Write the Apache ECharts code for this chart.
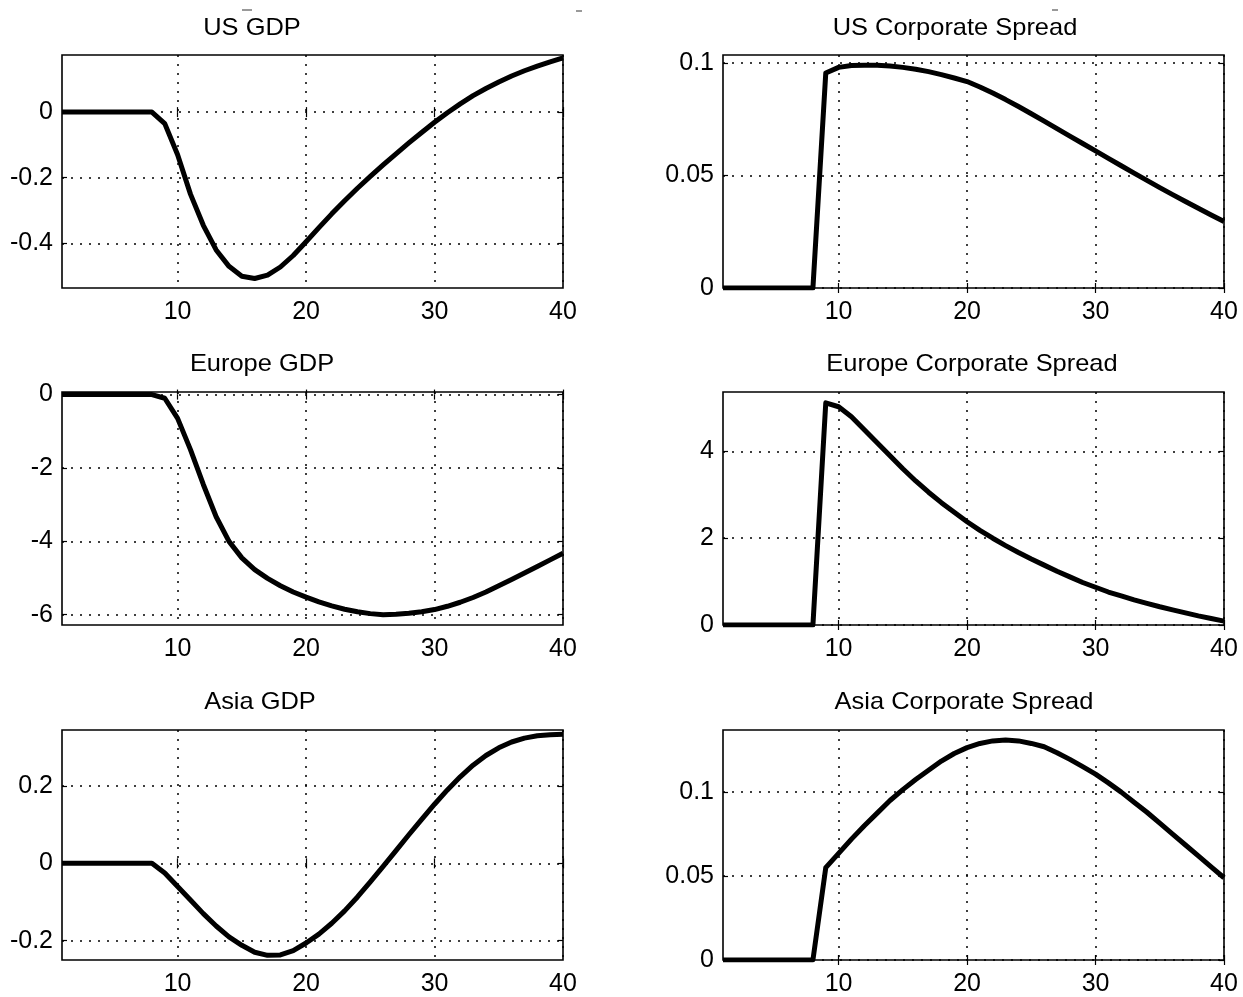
<!DOCTYPE html>
<html>
<head>
<meta charset="utf-8">
<script src="https://cdn.jsdelivr.net/npm/echarts@6/dist/echarts.min.js"></script>
<style>
  html, body { margin: 0; padding: 0; background: #fff; }
  #main { width: 1243px; height: 997px; }
</style>
</head>
<body>
<div id="main"></div>
<script>
// periods on the x axis
var periods = [1,2,3,4,5,6,7,8,9,10,11,12,13,14,15,16,17,18,19,20,
               21,22,23,24,25,26,27,28,29,30,31,32,33,34,35,36,37,38,39,40];
var xTicks = [10, 20, 30, 40];

var usGdp = [0,0,0,0,0,0,0,0,-0.035,-0.13,-0.25,-0.345,-0.42,-0.47,-0.5,-0.507,-0.497,-0.472,-0.437,-0.395,
             -0.352,-0.31,-0.27,-0.232,-0.196,-0.161,-0.127,-0.094,-0.062,-0.031,-0.002,0.025,0.05,0.072,0.092,0.11,0.126,0.14,0.153,0.165];
var usSpread = [0,0,0,0,0,0,0,0,0.0955,0.098,0.0988,0.099,0.0989,0.0986,0.098,0.0972,0.0961,0.0948,0.0933,0.0917,
                0.0893,0.0866,0.0837,0.0806,0.0774,0.0741,0.0708,0.0675,0.0642,0.0609,0.0576,0.0543,0.051,0.0478,0.0446,0.0415,0.0384,0.0354,0.0324,0.0295];
var euGdp = [0,0,0,0,0,0,0,0,-0.1,-0.65,-1.5,-2.45,-3.33,-4.0,-4.45,-4.77,-5.01,-5.21,-5.38,-5.52,
             -5.65,-5.76,-5.85,-5.92,-5.97,-6.0,-5.99,-5.96,-5.92,-5.86,-5.77,-5.66,-5.53,-5.38,-5.21,-5.04,-4.865,-4.685,-4.505,-4.325];
var euSpread = [0,0,0,0,0,0,0,0,5.12,5.03,4.8,4.5,4.2,3.9,3.6,3.32,3.06,2.82,2.6,2.38,
                2.18,2.0,1.83,1.67,1.52,1.38,1.24,1.11,0.98,0.87,0.76,0.67,0.58,0.5,0.42,0.35,0.28,0.21,0.15,0.09];
var asiaGdp = [0,0,0,0,0,0,0,0,-0.025,-0.06,-0.095,-0.13,-0.162,-0.19,-0.212,-0.23,-0.238,-0.237,-0.226,-0.206,
               -0.183,-0.155,-0.123,-0.087,-0.048,-0.008,0.033,0.074,0.114,0.153,0.19,0.224,0.254,0.279,0.299,0.314,0.324,0.33,0.333,0.334];
var asiaSpread = [0,0,0,0,0,0,0,0,0.055,0.0635,0.072,0.08,0.0875,0.095,0.1015,0.1075,0.113,0.1185,0.123,0.1265,
                  0.129,0.1305,0.131,0.1305,0.129,0.127,0.1235,0.1195,0.1152,0.1107,0.1055,0.1,0.094,0.088,0.0815,0.075,0.0685,0.062,0.0555,0.049];

var titles = ['US GDP', 'US Corporate Spread', 'Europe GDP', 'Europe Corporate Spread', 'Asia GDP', 'Asia Corporate Spread'];
var seriesData = [usGdp, usSpread, euGdp, euSpread, asiaGdp, asiaSpread];
var yMin = [-0.536, 0, -6.28, 0, -0.25, 0];
var yMax = [0.174, 0.1035, 0.07, 5.37, 0.345, 0.137];
var yTicks = [[-0.4, -0.2, 0], [0, 0.05, 0.1], [-6, -4, -2, 0], [0, 2, 4], [-0.2, 0, 0.2], [0, 0.05, 0.1]];

var FONT = 'Liberation Sans, Arial, Helvetica, sans-serif';
var gridLeft = [62, 723];
var gridTop = [55, 392, 730];
var titleX = [252, 955, 262, 972, 260, 964];
var titleY = [28, 28, 364, 364, 702, 702];

var grids = [], xAxes = [], yAxes = [], series = [], graphics = [];
var dotted = { color: '#000', width: 1.5, type: [2, 7] };
var tickStyle = { color: '#000', width: 1.2 };

for (var i = 0; i < 6; i++) {
    var row = Math.floor(i / 2), col = i % 2;
    grids.push({
        left: gridLeft[col], top: gridTop[row], width: 501, height: 233,
        show: true, borderColor: '#000', borderWidth: 1.6, backgroundColor: '#fff'
    });
    // bottom axis with labels and grid
    xAxes.push({
        gridIndex: i, type: 'value', min: 1, max: 40,
        axisLine: { show: false },
        axisTick: { show: true, inside: true, length: 5, customValues: xTicks, lineStyle: tickStyle },
        axisLabel: { customValues: xTicks, margin: 12, fontSize: 25, color: '#000', fontFamily: FONT },
        splitLine: { show: true, lineStyle: dotted }
    });
    // top mirror for ticks
    xAxes.push({
        gridIndex: i, type: 'value', position: 'top', min: 1, max: 40,
        axisLine: { show: false },
        axisTick: { show: true, inside: true, length: 5, customValues: xTicks, lineStyle: tickStyle },
        axisLabel: { show: false },
        splitLine: { show: false }
    });
    yAxes.push({
        gridIndex: i, type: 'value', min: yMin[i], max: yMax[i],
        axisLine: { show: false },
        axisTick: { show: true, inside: true, length: 5, customValues: yTicks[i], lineStyle: tickStyle },
        axisLabel: { customValues: yTicks[i], margin: 9, fontSize: 25, color: '#000', fontFamily: FONT },
        splitLine: { show: true, lineStyle: dotted }
    });
    yAxes.push({
        gridIndex: i, type: 'value', position: 'right', min: yMin[i], max: yMax[i],
        axisLine: { show: false },
        axisTick: { show: true, inside: true, length: 5, customValues: yTicks[i], lineStyle: tickStyle },
        axisLabel: { show: false },
        splitLine: { show: false }
    });
    var pts = [];
    for (var k = 0; k < periods.length; k++) pts.push([periods[k], seriesData[i][k]]);
    series.push({
        type: 'line', xAxisIndex: i * 2, yAxisIndex: i * 2, data: pts,
        showSymbol: false, symbol: 'none', silent: true, z: 5,
        lineStyle: { color: '#000', width: 5, join: 'round' }
    });
    graphics.push({
        type: 'text', x: titleX[i], y: titleY[i], scaleX: 1.06,
        style: { text: titles[i], font: '24px ' + FONT, fill: '#000', textAlign: 'center', textVerticalAlign: 'middle' }
    });
}

// small stray marks above the titles
var marks = [[242, 10, 252], [576, 11, 582], [1052, 10, 1058]];
marks.forEach(function (m) {
    graphics.push({ type: 'line', shape: { x1: m[0], y1: m[1], x2: m[2], y2: m[1] }, style: { stroke: '#555', lineWidth: 1.2 } });
});

var myChart = echarts.init(document.getElementById('main'));
var option = {
    backgroundColor: '#fff',
    animation: false,
    grid: grids,
    xAxis: xAxes,
    yAxis: yAxes,
    series: series,
    graphic: graphics
};
myChart.setOption(option);
</script>
</body>
</html>
